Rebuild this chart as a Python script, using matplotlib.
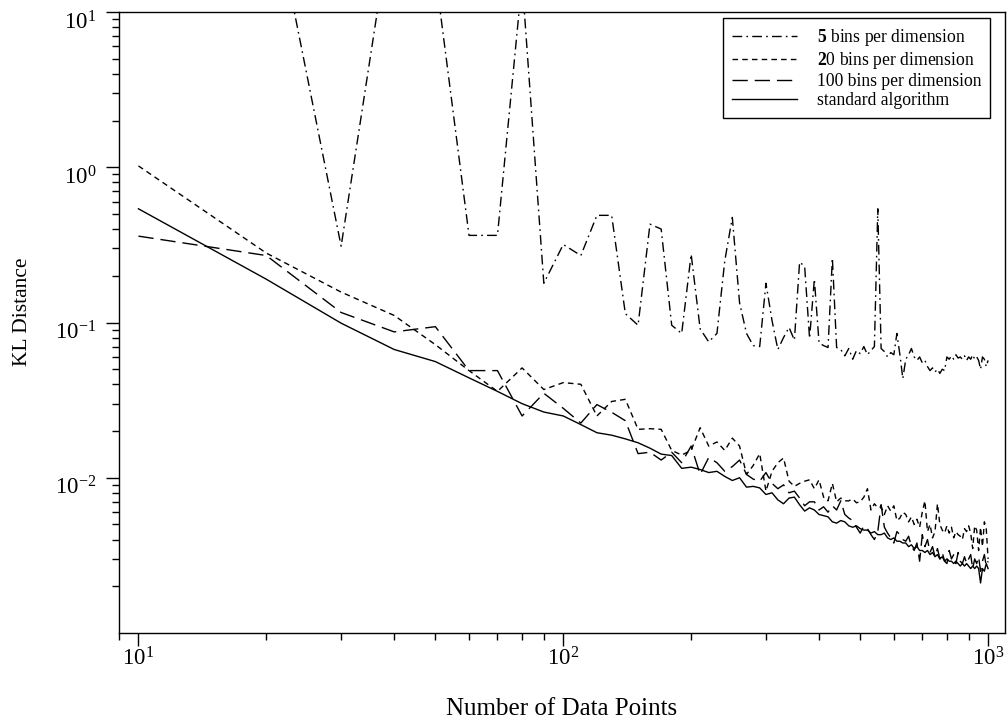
import numpy as np
import matplotlib
matplotlib.use("Agg")
import matplotlib.pyplot as plt
from matplotlib.transforms import ScaledTranslation

plt.rcParams['font.family'] = ['Liberation Serif', 'DejaVu Serif']
plt.rcParams['mathtext.fontset'] = 'custom'
plt.rcParams['mathtext.rm'] = 'Liberation Serif'
plt.rcParams['mathtext.it'] = 'Liberation Serif:italic'
plt.rcParams['mathtext.bf'] = 'Liberation Serif:bold'

n_points = list(range(10, 1001, 10))

kl_5bins = [
    60, 80, 0.31, 51, 17.6, 0.364, 0.364, 16, 0.179, 0.318,
    0.27, 0.49, 0.49, 0.114, 0.096, 0.43, 0.40, 0.096, 0.085, 0.275,
    0.091, 0.075, 0.085, 0.25, 0.475, 0.134, 0.085, 0.071, 0.070, 0.179,
    0.103, 0.067, 0.080, 0.093, 0.077, 0.245, 0.23, 0.079, 0.19, 0.074,
    0.071, 0.069, 0.26, 0.069, 0.067, 0.061, 0.068, 0.058, 0.066, 0.063,
    0.070, 0.062, 0.066, 0.070, 0.54, 0.068, 0.065, 0.060, 0.064, 0.062,
    0.085, 0.062, 0.0435, 0.058, 0.062, 0.068, 0.060, 0.057, 0.060, 0.055,
    0.057, 0.052, 0.049, 0.051, 0.048, 0.050, 0.047, 0.050, 0.049, 0.060,
    0.058, 0.061, 0.058, 0.062, 0.059, 0.060, 0.058, 0.061, 0.057, 0.060,
    0.058, 0.062, 0.058, 0.060, 0.057, 0.050, 0.060, 0.058, 0.052, 0.057,
]

kl_20bins = [
    1.02, 0.28, 0.157, 0.111, 0.072, 0.049, 0.036, 0.051, 0.037, 0.041,
    0.040, 0.025, 0.031, 0.032, 0.0205, 0.0207, 0.0205, 0.015, 0.014, 0.015,
    0.021, 0.016, 0.017, 0.015, 0.018, 0.016, 0.0105, 0.012, 0.0143, 0.0082,
    0.011, 0.0125, 0.0134, 0.0095, 0.0088, 0.0092, 0.0095, 0.0097, 0.0085, 0.0097,
    0.0075, 0.0071, 0.0092, 0.0070, 0.0074, 0.0071, 0.0071, 0.0073, 0.0069, 0.0070,
    0.0075, 0.0085, 0.0062, 0.0068, 0.0064, 0.0065, 0.0058, 0.0066, 0.0061, 0.0066,
    0.0053, 0.0055, 0.0060, 0.0058, 0.0052, 0.0056, 0.0050, 0.0054, 0.0048, 0.0060,
    0.0071, 0.0045, 0.0050, 0.0041, 0.0045, 0.0068, 0.0050, 0.0046, 0.0044, 0.0049,
    0.0044, 0.0048, 0.0041, 0.0045, 0.0043, 0.0042, 0.0040, 0.0047, 0.0045, 0.0049,
    0.0044, 0.0035, 0.0049, 0.0046, 0.0034, 0.0048, 0.0036, 0.0052, 0.0047, 0.0030,
]

kl_100bins = [
    0.36, 0.27, 0.116, 0.087, 0.094, 0.049, 0.049, 0.025, 0.035, 0.028,
    0.0225, 0.0296, 0.0264, 0.0233, 0.0143, 0.0146, 0.013, 0.0146, 0.0125, 0.016,
    0.0105, 0.0135, 0.0125, 0.0110, 0.0118, 0.0130, 0.0105, 0.0098, 0.0095, 0.0108,
    0.0092, 0.0085, 0.0090, 0.0080, 0.0082, 0.0074, 0.0066, 0.0070, 0.0070, 0.0062,
    0.0065, 0.0060, 0.0066, 0.0062, 0.0071, 0.0058, 0.0055, 0.0053, 0.0048, 0.0044,
    0.0049, 0.0047, 0.0043, 0.0040, 0.0045, 0.0067, 0.0048, 0.0044, 0.0041, 0.0038,
    0.0045, 0.0043, 0.0040, 0.0039, 0.0042, 0.0036, 0.0034, 0.0038, 0.0029, 0.0043,
    0.0036, 0.0040, 0.0033, 0.0036, 0.0031, 0.0035, 0.0030, 0.0033, 0.0029, 0.0028,
    0.0034, 0.0030, 0.0032, 0.0028, 0.0033, 0.0029, 0.0028, 0.0031, 0.0028, 0.0030,
    0.0032, 0.0026, 0.0030, 0.0028, 0.0031, 0.0025, 0.0029, 0.0032, 0.0027, 0.0029,
]

kl_standard = [
    0.54, 0.19, 0.099, 0.067, 0.056, 0.044, 0.036, 0.030, 0.0265, 0.025,
    0.022, 0.0195, 0.0188, 0.0178, 0.0168, 0.0155, 0.0142, 0.0139, 0.0115, 0.0117,
    0.0113, 0.0108, 0.0110, 0.0102, 0.0096, 0.0100, 0.0087, 0.0088, 0.0086, 0.0078,
    0.0080, 0.0072, 0.0068, 0.0074, 0.0075, 0.0067, 0.0061, 0.0064, 0.0062, 0.0058,
    0.0057, 0.0056, 0.0052, 0.0051, 0.0053, 0.0052, 0.0049, 0.0048, 0.0049, 0.0047,
    0.0046, 0.0046, 0.0044, 0.0045, 0.0043, 0.0043, 0.0044, 0.0041, 0.0040, 0.0041,
    0.0039, 0.0039, 0.0038, 0.0038, 0.0036, 0.0037, 0.0035, 0.0036, 0.0034, 0.0034,
    0.0033, 0.0034, 0.0032, 0.0033, 0.0031, 0.0032, 0.0030, 0.0031, 0.0029, 0.0030,
    0.0029, 0.0029, 0.0028, 0.0029, 0.0028, 0.0027, 0.0028, 0.0027, 0.0028, 0.0027,
    0.0026, 0.0027, 0.0026, 0.0027, 0.0026, 0.0021, 0.0026, 0.0025, 0.0028, 0.0026,
]

series_labels = [
    r'$\mathbf{5}$ bins per dimension',
    r'$\mathbf{2}$0 bins per dimension',
    '100 bins per dimension',
    'standard algorithm',
]

fig = plt.figure(figsize=(10.07, 7.21), dpi=100)
ax = fig.add_axes([119/1007, 1 - 633/721, (1005 - 119)/1007, (633 - 12)/721])

lw = 1.0
ax.plot(n_points, kl_5bins, color='black', lw=lw, linestyle=(0, (7, 3, 1.2, 3)), label=series_labels[0])
ax.plot(n_points, kl_20bins, color='black', lw=lw, linestyle=(0, (4, 3)), label=series_labels[1])
ax.plot(n_points, kl_100bins, color='black', lw=lw, linestyle=(0, (11, 5)), label=series_labels[2])
ax.plot(n_points, kl_standard, color='black', lw=lw, linestyle='-', label=series_labels[3])

ax.set_xscale('log')
ax.set_yscale('log')
ax.set_xlim(9.0, 1096)
ax.set_ylim(1e-3, 10)
ax.set_yticks([1e-2, 1e-1, 1e0, 1e1])

for sp in ax.spines.values():
    sp.set_linewidth(1.0)

ax.tick_params(axis='both', which='both', direction='out', top=False, right=False, width=1.0)
ax.tick_params(axis='y', which='major', length=9.5, pad=7, labelsize=16.5)
ax.tick_params(axis='y', which='minor', length=5)
ax.tick_params(axis='x', which='major', length=9, pad=1, labelsize=16.5)
ax.tick_params(axis='x', which='minor', length=5)

off = ScaledTranslation(0, -8/100, fig.dpi_scale_trans)
for lab in ax.get_yticklabels():
    lab.set_transform(lab.get_transform() + off)

ax.set_xlabel('Number of Data Points', fontsize=18)
ax.xaxis.set_label_coords(0.5, -0.132)
ax.xaxis.label.set_va('baseline')
ax.set_ylabel('KL Distance', fontsize=15.5)
ax.yaxis.set_label_coords(-0.109, 0.518)
ax.yaxis.label.set_va('center')

leg = ax.legend(loc='upper right', bbox_to_anchor=((990 - 119)/886, (633 - 18)/621),
                borderaxespad=0, fontsize=12.7, handlelength=3.7, handletextpad=1.1,
                labelspacing=0.12, borderpad=0.5, fancybox=False, framealpha=1)
leg.get_frame().set_edgecolor('black')
leg.get_frame().set_linewidth(1.0)

fig.savefig('out.png', dpi=100)
